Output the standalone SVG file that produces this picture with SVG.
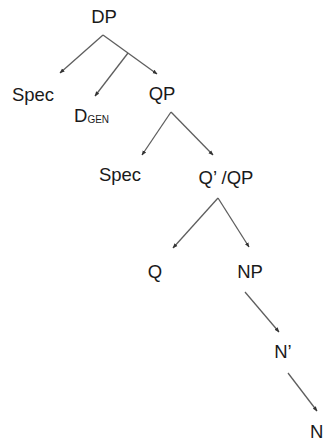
<svg xmlns="http://www.w3.org/2000/svg" width="325" height="442" viewBox="0 0 325 442">
  <defs>
    <marker id="arrow" viewBox="0 0 10 10" refX="9" refY="5" markerWidth="5" markerHeight="5" orient="auto" markerUnits="userSpaceOnUse">
      <path d="M0,1 L10,5 L0,9 Z" fill="#333"/>
    </marker>
    <style>
      .lbl { font-family: "Liberation Sans", Arial, sans-serif; font-size: 18.5px; fill: #1a1a1a; }
      .mid { text-anchor: middle; }
      .sub { font-size: 10px; }
      .edge { stroke: #5e5e5e; stroke-width: 1.3; fill: none; marker-end: url(#arrow); }
    </style>
  </defs>
  <rect width="325" height="442" fill="#ffffff"/>

  <g id="connectors">
    <line class="edge" x1="103" y1="35" x2="60" y2="73"/>
    <line class="edge" x1="103" y1="35" x2="157" y2="74"/>
    <line class="edge" x1="128" y1="53" x2="95" y2="96"/>
    <line class="edge" x1="171" y1="112" x2="142" y2="155"/>
    <line class="edge" x1="171" y1="112" x2="213" y2="155"/>
    <line class="edge" x1="218" y1="198" x2="173" y2="248"/>
    <line class="edge" x1="218" y1="198" x2="249" y2="247"/>
    <line class="edge" x1="245" y1="292" x2="279" y2="332"/>
    <line class="edge" x1="288" y1="373" x2="317" y2="411"/>
  </g>

  <g id="dp"><text class="lbl mid" x="104" y="23">DP</text></g>
  <g id="spec1"><text class="lbl mid" x="33" y="101">Spec</text></g>
  <g id="dgen"><text class="lbl" x="74" y="122">D<tspan class="sub" dy="1">GEN</tspan></text></g>
  <g id="qp"><text class="lbl mid" x="162" y="100">QP</text></g>
  <g id="spec2"><text class="lbl mid" x="120" y="181">Spec</text></g>
  <g id="qbar"><text class="lbl mid" x="226" y="184">Q’ /QP</text></g>
  <g id="q"><text class="lbl mid" x="155" y="278">Q</text></g>
  <g id="np"><text class="lbl mid" x="250" y="278">NP</text></g>
  <g id="nbar"><text class="lbl mid" x="283" y="358">N’</text></g>
  <g id="n"><text class="lbl" x="310" y="438">N</text></g>
</svg>
